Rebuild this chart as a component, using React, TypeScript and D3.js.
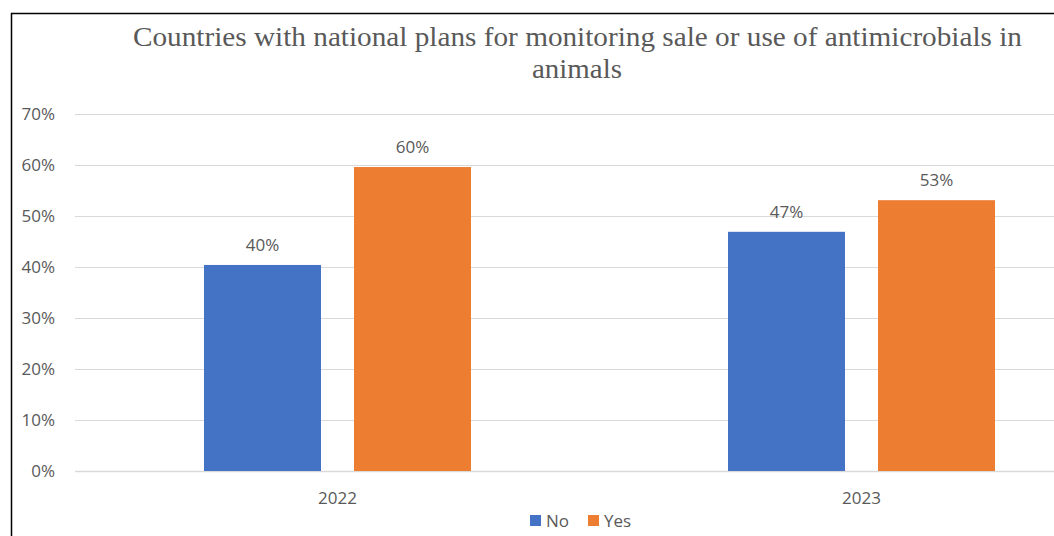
import React from "react";
import * as d3 from "d3";

const categories = ["2022", "2023"];
const seriesNames = ["No", "Yes"];
const noValues = [0.404, 0.469];
const yesValues = [0.596, 0.531];
const labelNo = ["40%", "47%"];
const labelYes = ["60%", "53%"];
const yTicks = [0, 0.1, 0.2, 0.3, 0.4, 0.5, 0.6, 0.7];
const colors = ["#4472C4", "#ED7D31"];

const W = 1054;
const H = 536;

export default function App() {
  const x = d3.scaleBand<string>().domain(categories).range([75.5, 1123.5]).padding(0);
  const groupW = 267;
  const xs = d3.scaleBand<string>().domain(seriesNames).range([0, groupW]).paddingInner(0.22).paddingOuter(0);
  const y = d3.scaleLinear().domain([0, 0.7]).range([471, 114]);
  const fmt = d3.format(".0%");
  const sans = "'Open Sans', 'Noto Sans', sans-serif";
  const textCol = "#595959";
  const rows = categories.map((c, i) => ({ c, vals: [noValues[i], yesValues[i]], labels: [labelNo[i], labelYes[i]] }));

  return (
    <svg width={W} height={H} style={{ position: "absolute", left: 0, top: 0, background: "#fff" }}>
      <rect x={0} y={0} width={W} height={H} fill="#fff" />
      {/* border */}
      <line x1={11} y1={13.5} x2={W} y2={13.5} stroke="#000" strokeWidth={1.5} />
      <line x1={11.5} y1={13} x2={11.5} y2={H} stroke="#000" strokeWidth={1.5} />
      {/* title */}
      <text x={577.5} y={46} textAnchor="middle" fontFamily="'Liberation Serif', 'Times New Roman', serif" fontSize={27} fill={textCol} textLength={889} lengthAdjust="spacingAndGlyphs">
        Countries with national plans for monitoring sale or use of antimicrobials in
      </text>
      <text x={577} y={78} textAnchor="middle" fontFamily="'Liberation Serif', 'Times New Roman', serif" fontSize={27} fill={textCol} textLength={90} lengthAdjust="spacingAndGlyphs">
        animals
      </text>
      {/* gridlines */}
      {yTicks.map((t) => (
        <g key={t}>
          <line x1={75} x2={W} y1={Math.round(y(t)) + 0.5} y2={Math.round(y(t)) + 0.5} stroke="#d9d9d9" strokeWidth={t === 0 ? 1.5 : 1} />
          <text x={55} y={y(t) + 6} textAnchor="end" fontFamily={sans} fontSize={17} fill={textCol}>
            {fmt(t)}
          </text>
        </g>
      ))}
      {/* bars */}
      {rows.map((r) => {
        const gx = (x(r.c) as number) + (x.bandwidth() - groupW) / 2;
        return (
          <g key={r.c}>
            {r.vals.map((v, j) => {
              const bx = gx + (xs(seriesNames[j]) as number);
              return (
                <g key={j}>
                  <rect x={bx} y={y(v)} width={xs.bandwidth()} height={y(0) - y(v)} fill={colors[j]} />
                  <text x={bx + xs.bandwidth() / 2} y={y(v) - 14} textAnchor="middle" fontFamily={sans} fontSize={17} fill={textCol}>
                    {r.labels[j]}
                  </text>
                </g>
              );
            })}
            <text x={(x(r.c) as number) + x.bandwidth() / 2} y={504} textAnchor="middle" fontFamily={sans} fontSize={17} fill={textCol}>
              {r.c}
            </text>
          </g>
        );
      })}
      {/* legend */}
      {seriesNames.map((s, j) => {
        const lx = [530, 588][j];
        return (
          <g key={s}>
            <rect x={lx} y={515} width={11} height={11} fill={colors[j]} />
            <text x={lx + 16} y={527} fontFamily={sans} fontSize={17} fill={textCol}>
              {s}
            </text>
          </g>
        );
      })}
    </svg>
  );
}
